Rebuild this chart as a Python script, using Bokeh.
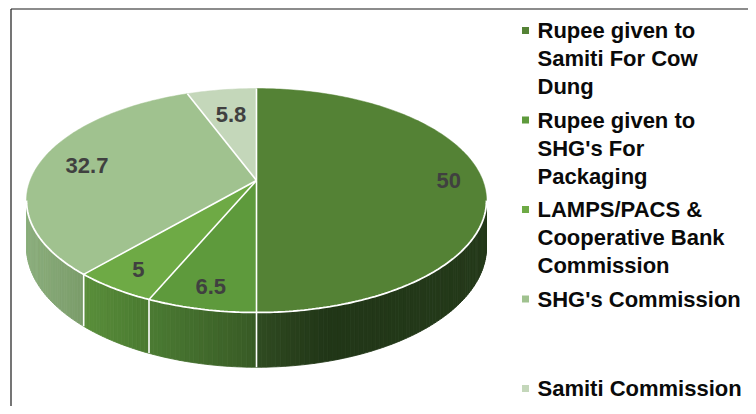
import numpy as np
from bokeh.plotting import figure
from bokeh.models import Range1d
from bokeh.core.properties import value
from bokeh.embed import file_html
from bokeh.resources import INLINE

# ---------------- data ----------------
categories = ["Rupee given to\nSamiti For Cow\nDung",
              "Rupee given to\nSHG's For\nPackaging",
              "LAMPS/PACS &\nCooperative Bank\nCommission",
              "SHG's Commission",
              "Samiti Commission"]
values = [50, 6.5, 5, 32.7, 5.8]
value_labels = ["50", "6.5", "5", "32.7", "5.8"]

# ---------------- style ----------------
top_colors = ["#548235", "#5e9a3c", "#6eaa45", "#a0c28f", "#c4d7ba"]
side_stops = [
    [(0.0, "#2f4b21"), (0.3, "#213617"), (1.0, "#243a1a")],
    [(0.0, "#4b7b33"), (1.0, "#385a25")],
    [(0.0, "#5a8e3b"), (1.0, "#4a7a30")],
    [(0.0, "#8cae7d"), (1.0, "#7a9c6a")],
    [(0.0, "#c4d7ba"), (1.0, "#b0c4a6")],
]
label_r = [0.85, 0.85, 0.85, 0.78, 0.70]
FONT = "Liberation Sans"

W, H = 748, 406
CX, CY = 256.0, 180.0        # projected apex (picture px)
A, B, PA = 226.3, 108.4, 0.1786  # perspective ellipse params
DEPTH = 45.0

p = figure(width=W, height=H, output_backend="svg", toolbar_location=None,
           x_range=Range1d(0, W), y_range=Range1d(H, 0),
           x_axis_location=None, y_axis_location=None,
           min_border=0, min_border_left=0, min_border_right=0,
           min_border_top=0, min_border_bottom=0)
p.outline_line_color = None
p.xgrid.visible = False
p.ygrid.visible = False
p.background_fill_color = "white"
p.border_fill_color = "white"


def proj(r, th):
    u = r * np.sin(th)
    v = r * np.cos(th)
    den = 1 + PA * v
    return CX + A * u / den, CY - B * v / den


def drop(th):
    return DEPTH / (1 + PA * np.cos(th))


def hex2rgb(h):
    h = h.lstrip("#")
    return np.array([int(h[i:i + 2], 16) for i in (0, 2, 4)], dtype=float)


def interp_color(stops, t):
    t = min(max(t, 0.0), 1.0)
    for (t0, c0), (t1, c1) in zip(stops[:-1], stops[1:]):
        if t <= t1:
            f = 0 if t1 == t0 else (t - t0) / (t1 - t0)
            c = hex2rgb(c0) * (1 - f) + hex2rgb(c1) * f
            return "#%02x%02x%02x" % tuple(int(round(x)) for x in c)
    return stops[-1][1]


total = float(sum(values))
bounds = np.concatenate([[0], np.cumsum(values)]) / total * 2 * np.pi
th_s = np.arccos(-PA)
front_lo, front_hi = th_s, 2 * np.pi - th_s

# ---------------- side walls ----------------
sxs, sys_, scol = [], [], []
for i in range(len(values)):
    lo = max(bounds[i], front_lo)
    hi = min(bounds[i + 1], front_hi)
    if hi <= lo:
        continue
    n = max(int(np.degrees(hi - lo)), 2)
    ths = np.linspace(lo, hi, n + 1)
    xs_all = [proj(1, t)[0] for t in ths]
    xmin, xmax = min(xs_all), max(xs_all)
    for t0, t1 in zip(ths[:-1], ths[1:]):
        x0, y0 = proj(1, t0)
        x1, y1 = proj(1, t1)
        sxs.append([x0, x1, x1, x0])
        sys_.append([y0, y1, y1 + drop(t1), y0 + drop(t0)])
        xm = 0.5 * (x0 + x1)
        scol.append(interp_color(side_stops[i], (xm - xmin) / (xmax - xmin)))
p.patches(sxs, sys_, fill_color=scol, line_color=scol, line_width=0.8)

# vertical white separators on the side
for b in bounds[1:-1]:
    if front_lo < b < front_hi:
        x0, y0 = proj(1, b)
        p.segment(x0=[x0], y0=[y0], x1=[x0], y1=[y0 + drop(b)],
                  line_color="white", line_width=1.6)

# ---------------- top wedges ----------------
txs, tys = [], []
for i in range(len(values)):
    n = max(int(np.degrees(bounds[i + 1] - bounds[i])), 2)
    ths = np.linspace(bounds[i], bounds[i + 1], n + 1)
    xs = [CX] + [proj(1, t)[0] for t in ths]
    ys = [CY] + [proj(1, t)[1] for t in ths]
    txs.append(xs)
    tys.append(ys)
p.patches(txs, tys, fill_color=top_colors, line_color=top_colors, line_width=0.5)

# rim highlight along front edge
rim = np.linspace(front_lo, front_hi, 200)
p.line([proj(1, t)[0] for t in rim], [proj(1, t)[1] for t in rim],
       line_color="white", line_width=1.8)

# radial white separators
for b in bounds[:-1]:
    x1, y1 = proj(1, b)
    p.segment(x0=[CX], y0=[CY], x1=[x1], y1=[y1], line_color="white", line_width=1.6)

# ---------------- data labels ----------------
mids = 0.5 * (bounds[:-1] + bounds[1:])
lx = [proj(r, m)[0] for r, m in zip(label_r, mids)]
ly = [proj(r, m)[1] for r, m in zip(label_r, mids)]
p.text(x=lx, y=ly, text=value_labels, text_align="center", text_baseline="middle",
       text_font=value(FONT), text_font_style="bold", text_font_size="22px",
       text_color="#404040")

# ---------------- legend ----------------
LEG_X, TXT_X = 525.0, 537.0
LEG_TOP, SLOT, LINE_H, FS = 30.0, 89.5, 28.0, 22
mx, my, lxs, lys, ltxt = [], [], [], [], []
for k, name in enumerate(categories):
    c = LEG_TOP + k * SLOT
    mx.append(LEG_X)
    my.append(c)
    for j, line in enumerate(name.split("\n")):
        lxs.append(TXT_X)
        lys.append(c + j * LINE_H)
        ltxt.append(line)
p.rect(x=mx, y=my, width=7, height=7, fill_color=top_colors, line_color=None)
p.text(x=lxs, y=lys, text=ltxt, text_align="left", text_baseline="middle",
       text_font=value(FONT), text_font_style="bold", text_font_size=f"{FS}px",
       text_color="#0a0a0a")

# chart-area border (right/bottom edges fall outside the view)
p.segment(x0=[10.5, 10.5], y0=[8.5, 8.5], x1=[W, 10.5], y1=[8.5, H],
          line_color="#1a1a1a", line_width=1.2)

open("out.html", "w").write(file_html(p, INLINE))
